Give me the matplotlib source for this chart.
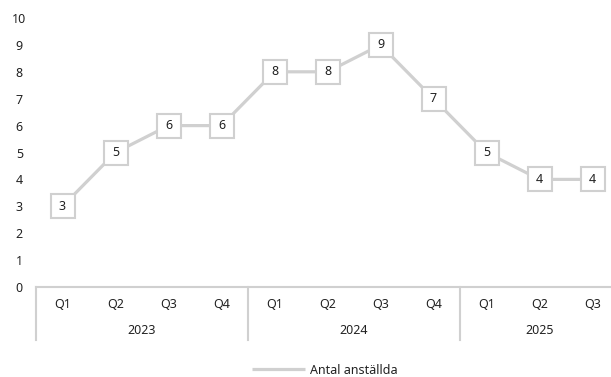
import matplotlib
matplotlib.use("Agg")
import matplotlib.pyplot as plt
import matplotlib.transforms as mtransforms

plt.rcParams['font.family'] = ['Noto Sans', 'DejaVu Sans']

quarters = ["Q1", "Q2", "Q3", "Q4", "Q1", "Q2", "Q3", "Q4", "Q1", "Q2", "Q3"]
years = ["2023", "2024", "2025"]
year_counts = [4, 4, 3]
values = [3, 5, 6, 6, 8, 8, 9, 7, 5, 4, 4]
series_name = "Antal anställda"
yticks = list(range(0, 11))

W, H = 611, 377
fig = plt.figure(figsize=(W / 100, H / 100), dpi=100)
left_px, right_px, bottom_px, top_px = 36, 611, 287, 18
ax = fig.add_axes([left_px / W, 1 - bottom_px / H, (right_px - left_px) / W, (bottom_px - top_px) / H])

grey = "#d0d0d0"
txt = "#222222"
fs = 9
n = len(values)
xs = list(range(n))
ax.plot(xs, values, color=grey, lw=2.3, solid_capstyle='butt', label=series_name, zorder=2, clip_on=False)
ax.plot(xs, values, ls='none', marker='s', ms=17.2, mfc='white', mec=grey, mew=1.5, zorder=3, clip_on=False)
for x, v in zip(xs, values):
    ax.text(x, v, str(v), ha='center', va='center', fontsize=fs, color=txt, zorder=4)

step_px = 53.0
ax.set_xlim(-0.5, -0.5 + (right_px - left_px) / step_px)
ax.set_ylim(0, 10)
for s in ['top', 'right', 'left']:
    ax.spines[s].set_visible(False)
ax.spines['bottom'].set_color(grey)
ax.spines['bottom'].set_linewidth(1.5)
ax.set_xticks([])
ax.set_yticks(yticks)
ax.set_yticklabels([str(t) for t in yticks], ha='center', fontsize=fs, color=txt)
ax.tick_params(axis='y', length=0, pad=12)

trans = mtransforms.blended_transform_factory(ax.transData, ax.transAxes)
ax_h = bottom_px - top_px
def yax(px_below):
    return -px_below / ax_h

for x, q in zip(xs, quarters):
    ax.text(x, yax(18), q, ha='center', va='center', fontsize=fs, color=txt, transform=trans)

start = 0
bounds = [-0.5]
for y, c in zip(years, year_counts):
    mid = start + (c - 1) / 2
    ax.text(mid, yax(44), y, ha='center', va='center', fontsize=fs, color=txt, transform=trans)
    start += c
    bounds.append(start - 0.5)
for b in bounds:
    ax.plot([b, b], [0, yax(53)], color=grey, lw=1.5, transform=trans, clip_on=False)

leg = fig.legend(loc='center', bbox_to_anchor=((252 + 398) / 2 / W, 1 - 370 / H), frameon=False,
                 fontsize=fs, handlelength=4.2, handletextpad=0.4, labelcolor=txt)

fig.savefig("out.png", dpi=100)
